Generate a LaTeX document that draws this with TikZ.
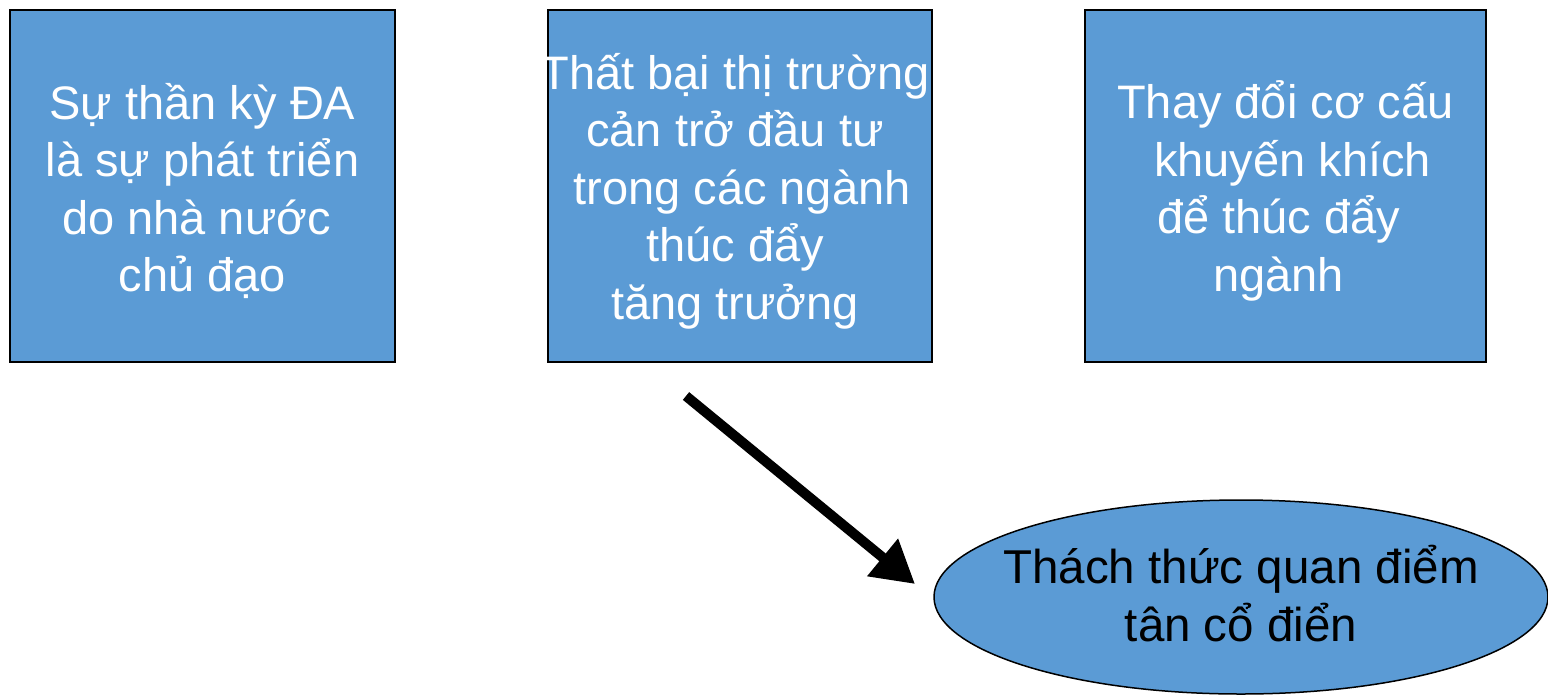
\documentclass[tikz,border=0pt]{standalone}
\usepackage{fontspec}
\setmainfont{Liberation Sans}
\usetikzlibrary{arrows.meta,shapes.geometric}
\definecolor{boxblue}{HTML}{5B9BD5}
\newcommand{\padr}[1]{\rule{#1}{0pt}}
\tikzset{
  bluebox/.style={draw=black, line width=2pt, fill=boxblue, rectangle, inner sep=0pt,
    minimum height=352pt},
  boxtext/.style={text=white, align=center, font=\fontsize{47}{57.5}\selectfont, yshift=-5pt},
  goalell/.style={draw=black, line width=1.5pt, fill=boxblue, ellipse, inner sep=0pt,
    minimum width=614pt, minimum height=194pt},
  elltext/.style={text=black, align=center, font=\fontsize{47.5}{58}\selectfont, yshift=3pt},
  bigarrow/.style={line width=10pt, -{Triangle[width=46pt,length=42pt]}}
}
\begin{document}
\begin{tikzpicture}[x=1pt,y=-1pt]
\useasboundingbox (0,0) rectangle (1548,694);
\node[bluebox, minimum width=385pt,
  label={[boxtext]center:Sự thần kỳ ĐA\\là sự phát triển\\do nhà nước\padr{12pt}\\chủ đạo}] (b1) at (202.5,186) {};
\node[bluebox, minimum width=384pt,
  label={[boxtext, xshift=-5pt]center:Thất bại thị trường\\cản trở đầu tư\\\padr{14pt}trong các ngành\\thúc đẩy\\tăng trưởng}] (b2) at (740,186) {};
\node[bluebox, minimum width=401pt,
  label={[boxtext]center:Thay đổi cơ cấu\\\padr{14pt}khuyến khích\\để thúc đẩy\padr{14pt}\\ngành\padr{14pt}}] (b3) at (1285.5,186) {};
\node[goalell, label={[elltext]center:Thách thức quan điểm\\tân cổ điển}] (e) at (1241,597) {};
\coordinate (as) at (686,396);
\coordinate (ae) at (915,584);
\draw[bigarrow] (as) -- (ae);
\end{tikzpicture}
\end{document}
